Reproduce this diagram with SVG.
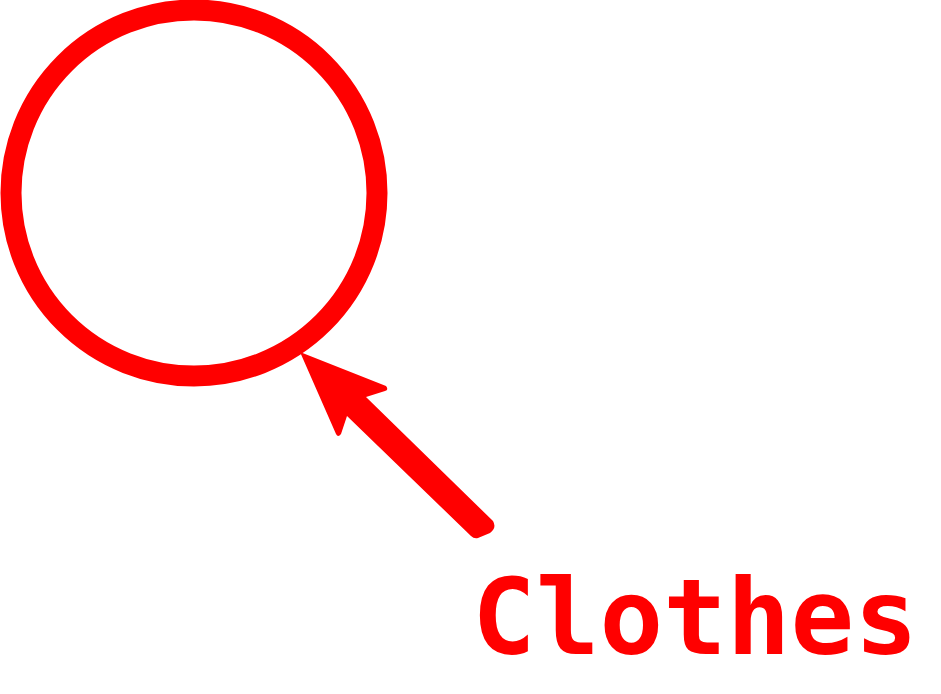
<svg xmlns="http://www.w3.org/2000/svg" width="941" height="694" viewBox="0 0 941 694">
<style>
.red{fill:#ff0000}
.ring{fill:none;stroke:#ff0000;stroke-width:21}
.lbl{font-family:"DejaVu Sans Mono","Liberation Mono",monospace;font-weight:bold;font-size:105px;fill:#ff0000}
</style>
<rect width="941" height="694" fill="#ffffff"/>
<g id="circle">
<circle class="ring" cx="194" cy="193" r="183"/>
</g>
<g id="connectors">
<path class="red" d="M300,352 L386,386 Q389,390 385,391 L366,397 L493,521 Q497,528 490,533 L478,538 Q474,539 471,536 L347,416 L341,434 Q338,438 336,434 Z"/>
</g>
<g id="label">
<text class="lbl" x="472" y="654" textLength="446" lengthAdjust="spacingAndGlyphs">Clothes</text>
</g>
</svg>
